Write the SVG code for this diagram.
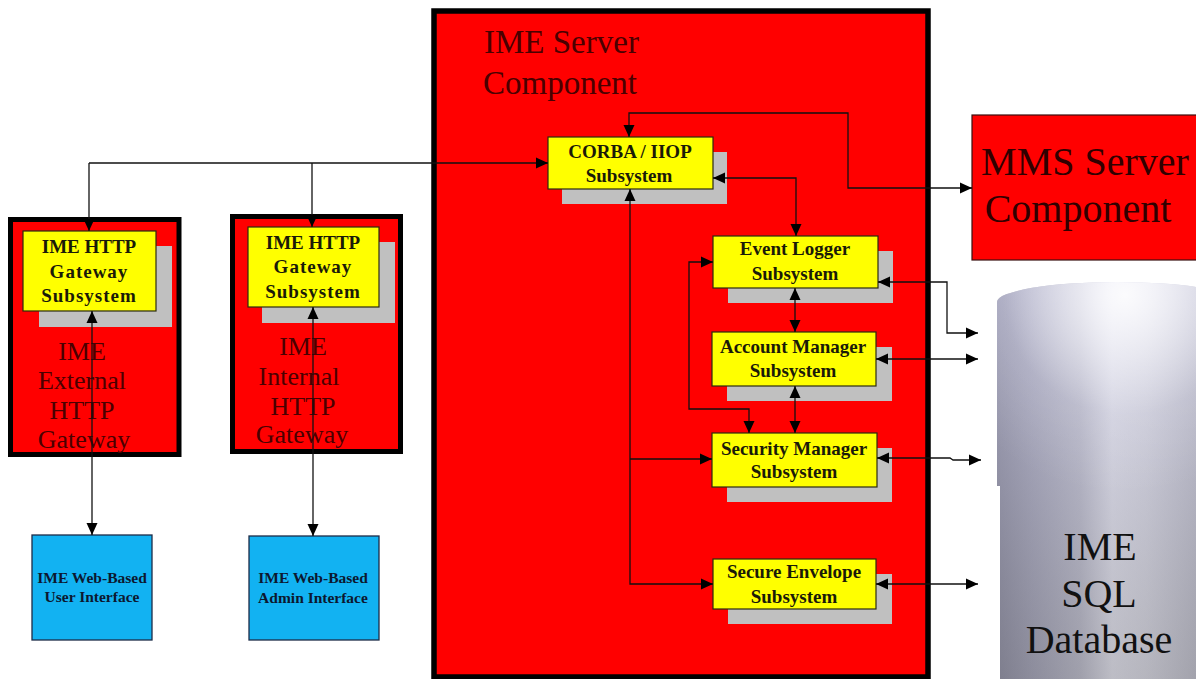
<svg xmlns="http://www.w3.org/2000/svg" width="1196" height="679" viewBox="0 0 1196 679">
  <style>
    .container { fill: #ff0000; stroke: #000; }
    .sub { fill: #ffff00; stroke: #2a2a10; stroke-width: 1.2; }
    .shadow { fill: #c0c0c0; }
    .ui { fill: #12b2f2; stroke: #1c2c48; stroke-width: 1.3; }
    .big { font-family: "Liberation Serif", "Times New Roman", serif; fill: #4a0000; text-anchor: middle; }
    .left { text-anchor: start; }
    .label { font-family: "Liberation Serif", "Times New Roman", serif; font-weight: bold; font-size: 19px; fill: #1a1a08; text-anchor: middle; }
    .uilabel { font-family: "Liberation Serif", "Times New Roman", serif; font-weight: bold; font-size: 15.5px; fill: #0c1830; text-anchor: middle; }
    .db { font-family: "Liberation Serif", "Times New Roman", serif; font-size: 40px; fill: #111; text-anchor: middle; }
    .wire { fill: none; stroke: #111; stroke-width: 1.3; }
    .both { marker-start: url(#ah); marker-end: url(#ah); }
    .end { marker-end: url(#ah); }
  </style>
  <defs>
    <marker id="ah" viewBox="0 0 12 12" refX="12" refY="6" markerWidth="12" markerHeight="12" markerUnits="userSpaceOnUse" orient="auto-start-reverse">
      <path d="M0,0.5 L12,6 L0,11.5 Z" fill="#000"/>
    </marker>
    <linearGradient id="cyl" x1="997" y1="0" x2="1196" y2="0" gradientUnits="userSpaceOnUse">
      <stop offset="0" stop-color="#8c8c9c"/>
      <stop offset="0.18" stop-color="#a2a2b2"/>
      <stop offset="0.42" stop-color="#bdbdc8"/>
      <stop offset="0.58" stop-color="#e6e6ec"/>
      <stop offset="0.75" stop-color="#dcdce2"/>
      <stop offset="1" stop-color="#c0c0c8"/>
    </linearGradient>
    <radialGradient id="glow" cx="1125" cy="295" r="200" gradientUnits="userSpaceOnUse">
      <stop offset="0" stop-color="#ffffff" stop-opacity="0.9"/>
      <stop offset="0.6" stop-color="#ffffff" stop-opacity="0.1"/>
      <stop offset="1" stop-color="#ffffff" stop-opacity="0"/>
    </radialGradient>
    <linearGradient id="shade" x1="0" y1="290" x2="0" y2="679" gradientUnits="userSpaceOnUse">
      <stop offset="0" stop-color="#d0d0f4" stop-opacity="0.4"/>
      <stop offset="1" stop-color="#5c5c6a" stop-opacity="0.3"/>
    </linearGradient>
  </defs>

  <rect width="1196" height="679" fill="#fff"/>

  <!-- IME server container -->
  <g id="ime-server">
    <rect class="container" x="434" y="11" width="494" height="666" stroke-width="5.5"/>
    <text class="big left" font-size="33" x="484" y="53">IME Server</text>
    <text class="big left" font-size="33" x="483" y="94">Component</text>
  </g>

  <!-- external gateway -->
  <g id="external-gateway">
    <rect class="container" x="10.5" y="219.5" width="168.5" height="235" stroke-width="5"/>
    <rect class="shadow" x="39" y="246" width="133" height="81"/>
    <rect class="sub" x="23" y="231" width="133" height="80"/>
    <text class="label" x="89" y="253">IME HTTP</text>
    <text class="label" x="89" y="278" letter-spacing="1">Gateway</text>
    <text class="label" x="89" y="302" letter-spacing="1">Subsystem</text>
    <text class="big" font-size="26" x="82" y="360">IME</text>
    <text class="big" font-size="26" x="82" y="389">External</text>
    <text class="big" font-size="26" x="82" y="419">HTTP</text>
    <text class="big" font-size="26" x="84" y="448">Gateway</text>
  </g>

  <!-- internal gateway -->
  <g id="internal-gateway">
    <rect class="container" x="232.5" y="216.5" width="168" height="235" stroke-width="5"/>
    <rect class="shadow" x="262" y="242" width="133" height="81"/>
    <rect class="sub" x="248" y="227" width="131" height="80"/>
    <text class="label" x="313" y="249">IME HTTP</text>
    <text class="label" x="313" y="273" letter-spacing="1">Gateway</text>
    <text class="label" x="313" y="298" letter-spacing="1">Subsystem</text>
    <text class="big" font-size="26" x="303" y="355">IME</text>
    <text class="big" font-size="26" x="299" y="385">Internal</text>
    <text class="big" font-size="26" x="303" y="415">HTTP</text>
    <text class="big" font-size="26" x="302" y="443">Gateway</text>
  </g>

  <!-- web front ends -->
  <g id="user-ui">
    <rect class="ui" x="32" y="535" width="120" height="105"/>
    <text class="uilabel" x="92" y="583">IME Web-Based</text>
    <text class="uilabel" x="92" y="602">User Interface</text>
  </g>
  <g id="admin-ui">
    <rect class="ui" x="249" y="536" width="130" height="104"/>
    <text class="uilabel" x="313" y="583">IME Web-Based</text>
    <text class="uilabel" x="313" y="603">Admin Interface</text>
  </g>

  <!-- subsystems inside the server -->
  <g id="corba">
    <rect class="shadow" x="562" y="152" width="165" height="52"/>
    <rect class="sub" x="548" y="137" width="165" height="52"/>
    <text class="label" x="630" y="158">CORBA / IIOP</text>
    <text class="label" x="629" y="182">Subsystem</text>
  </g>
  <g id="event-logger">
    <rect class="shadow" x="728" y="251" width="165" height="52"/>
    <rect class="sub" x="713" y="236" width="165" height="52"/>
    <text class="label" x="795" y="255">Event Logger</text>
    <text class="label" x="795" y="280">Subsystem</text>
  </g>
  <g id="account-manager">
    <rect class="shadow" x="727" y="347" width="165" height="54"/>
    <rect class="sub" x="712" y="332" width="164" height="54"/>
    <text class="label" x="793" y="353">Account Manager</text>
    <text class="label" x="793" y="377">Subsystem</text>
  </g>
  <g id="security-manager">
    <rect class="shadow" x="727" y="448" width="165" height="54"/>
    <rect class="sub" x="712" y="433" width="165" height="54"/>
    <text class="label" x="794" y="455">Security Manager</text>
    <text class="label" x="794" y="478">Subsystem</text>
  </g>
  <g id="secure-envelope">
    <rect class="shadow" x="728" y="574" width="164" height="50"/>
    <rect class="sub" x="713" y="559" width="163" height="50"/>
    <text class="label" x="794" y="578">Secure Envelope</text>
    <text class="label" x="794" y="603">Subsystem</text>
  </g>

  <!-- MMS server -->
  <g id="mms-server">
    <rect x="972" y="115" width="240" height="145" fill="#ff0000" stroke="#3a1010" stroke-width="1.2"/>
    <text class="big" font-size="40" x="1085" y="175" style="fill:#300000">MMS Server</text>
    <text class="big" font-size="40" x="1078" y="222" style="fill:#300000">Component</text>
  </g>

  <!-- SQL database cylinder -->
  <g id="sql-database">
    <path d="M1000,679 L1000,486 L997,486 L997,302 A120,20 0 0 1 1237,302 L1237,679 Z" fill="url(#cyl)"/>
    <path d="M1000,679 L1000,486 L997,486 L997,302 A120,20 0 0 1 1237,302 L1237,679 Z" fill="url(#shade)"/>
    <path d="M1000,679 L1000,486 L997,486 L997,302 A120,20 0 0 1 1237,302 L1237,679 Z" fill="url(#glow)"/>
    <text class="db" x="1100" y="560">IME</text>
    <text class="db" x="1099" y="607">SQL</text>
    <text class="db" x="1099" y="653">Database</text>
  </g>

  <!-- connectors -->
  <g id="connectors">
    <!-- gateway bus into CORBA -->
    <path class="wire end" d="M89,163 L548,163"/>
    <path class="wire end" d="M89,163 L89,231"/>
    <path class="wire end" d="M312,163 L312,227"/>
    <!-- gateways to web front ends -->
    <path class="wire both" d="M92,311 L92,535"/>
    <path class="wire both" d="M313,307 L313,536"/>
    <!-- CORBA to MMS -->
    <path class="wire both" d="M629,137 L629,113 L848,113 L848,188 L972,188"/>
    <!-- CORBA to event logger -->
    <path class="wire both" d="M713,178 L796,178 L796,236"/>
    <!-- CORBA down to security manager and secure envelope -->
    <path class="wire both" d="M630,189 L630,584 L713,584"/>
    <path class="wire end" d="M630,459 L712,459"/>
    <!-- event logger loop to security manager -->
    <path class="wire both" d="M713,262 L689,262 L689,409 L749,409 L749,433"/>
    <!-- vertical chain -->
    <path class="wire both" d="M795,288 L795,332"/>
    <path class="wire both" d="M795,386 L795,433"/>
    <!-- subsystems to database -->
    <path class="wire both" d="M878,282 L947,282 L947,333 L978,333"/>
    <path class="wire both" d="M876,359 L978,359"/>
    <path class="wire both" d="M877,458 L950,458 L953,460 L981,460"/>
    <path class="wire both" d="M876,584 L978,584"/>
  </g>
</svg>
